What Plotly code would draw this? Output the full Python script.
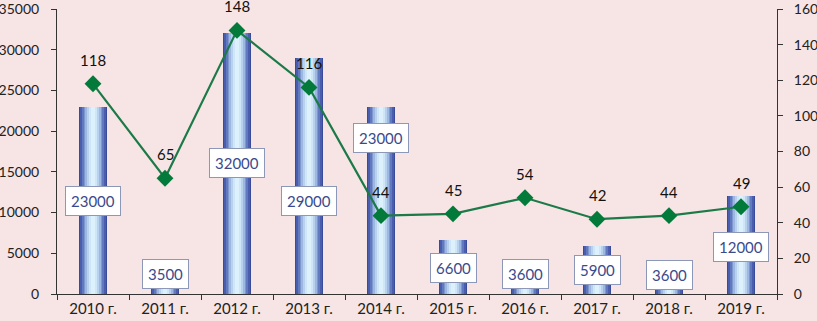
import plotly.graph_objects as go

years = ["2010 г.", "2011 г.", "2012 г.", "2013 г.", "2014 г.", "2015 г.", "2016 г.", "2017 г.", "2018 г.", "2019 г."]
bar_values = [23000, 3500, 32000, 29000, 23000, 6600, 3600, 5900, 3600, 12000]
line_values = [118, 65, 148, 116, 44, 45, 54, 42, 44, 49]

# label vertical positions (left-axis units) for the boxed bar labels
bar_label_y = [11400, 2450, 16100, 11400, 19200, 3200, 2450, 2950, 2350, 5800]

BG = "#F7E4E4"
FONT = "Lato"

fig = go.Figure()

# cylinder-like gradient built from overlaid bars of decreasing width
layers = [
    (0.40, "#3B4B9B"),
    (0.36, "#4A5EAD"),
    (0.31, "#6179BE"),
    (0.26, "#7E97CF"),
    (0.21, "#9DB7E0"),
    (0.16, "#B8D2EE"),
    (0.11, "#CFE6F8"),
    (0.06, "#DDF1FC"),
]
for w, c in layers:
    fig.add_trace(go.Bar(
        x=years, y=bar_values, width=w, marker=dict(color=c, line=dict(width=0)),
        hoverinfo="skip", showlegend=False, yaxis="y"))

fig.add_trace(go.Scatter(
    x=years, y=line_values, yaxis="y2", mode="lines+markers",
    line=dict(color="#1B7A48", width=2.2),
    marker=dict(symbol="diamond", size=13, color="#037A3A"),
    showlegend=False))

annotations = []
for xv, v, ly in zip(years, bar_values, bar_label_y):
    annotations.append(dict(
        x=xv, y=ly, xref="x", yref="y", text=str(v), showarrow=False,
        font=dict(family=FONT, size=15, color="#3B4A8C"),
        bgcolor="white", bordercolor="#8D97B8", borderwidth=1, borderpad=5))
for xv, v in zip(years, line_values):
    annotations.append(dict(
        x=xv, y=v, xref="x", yref="y2", text=str(v), showarrow=False,
        yshift=24, font=dict(family=FONT, size=15, color="#111111")))

axis_common = dict(showline=True, linecolor="#333333", linewidth=1, ticks="outside",
                   ticklen=5, tickcolor="#333333", showgrid=False, zeroline=False,
                   automargin=False, ticklabeloverflow="allow")

fig.update_layout(
    width=817, height=321,
    margin=dict(l=57, r=40, t=9, b=27),
    paper_bgcolor=BG, plot_bgcolor=BG,
    barmode="overlay", bargap=0,
    font=dict(family=FONT, size=15, color="#222222"),
    xaxis=dict(type="category", range=[-0.5, len(years) - 0.5], tickson="boundaries",
               ticklabelstandoff=1, tickfont=dict(size=15), **axis_common),
    yaxis=dict(range=[0, 35000], dtick=5000, tickformat="d", ticklabelstandoff=9,
               tickfont=dict(size=14), **axis_common),
    yaxis2=dict(range=[0, 160], dtick=20, tickformat="d", overlaying="y", side="right",
                ticklabelstandoff=8, tickfont=dict(size=14), **axis_common),
    annotations=annotations,
)

fig.write_html("out.html", post_script="document.body.style.margin='0';",
               config={"displayModeBar": False})
